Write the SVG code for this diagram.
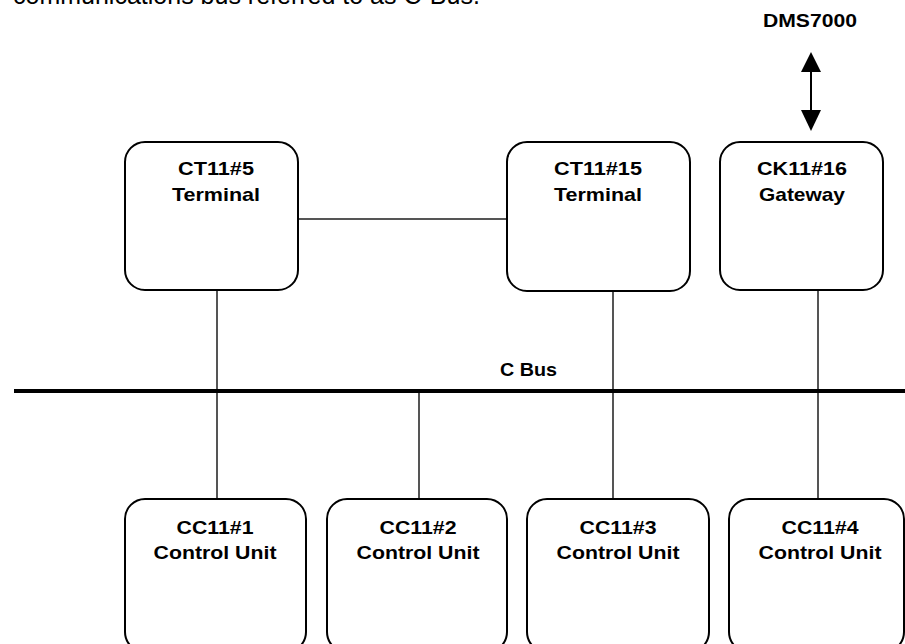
<svg xmlns="http://www.w3.org/2000/svg" width="905" height="644" viewBox="0 0 905 644">
<style>
.box{fill:#fff;stroke:#000;stroke-width:2}
.lbl{font-family:"Liberation Sans",Arial,sans-serif;font-weight:bold;font-size:19px;fill:#000;text-anchor:middle}
.conn{stroke:#555;stroke-width:2;fill:none}
</style>
<rect width="905" height="644" fill="#fff"/>
<text x="13" y="4" font-family="Liberation Sans, Arial, sans-serif" font-size="25" fill="#000">communications bus referred to as C-Bus.</text>
<text x="763" y="27" font-family="Liberation Sans, Arial, sans-serif" font-weight="bold" font-size="19" fill="#000" textLength="94" lengthAdjust="spacingAndGlyphs">DMS7000</text>
<g id="connectors">
<line class="conn" x1="298" y1="219" x2="507" y2="219"/>
<line class="conn" x1="217" y1="290" x2="217" y2="499"/>
<line class="conn" x1="419" y1="391" x2="419" y2="499"/>
<line class="conn" x1="613" y1="291" x2="613" y2="499"/>
<line class="conn" x1="818" y1="290" x2="818" y2="499"/>
<line x1="14" y1="391" x2="905" y2="391" stroke="#000" stroke-width="4"/>
<line x1="811" y1="72" x2="811" y2="110" stroke="#000" stroke-width="2"/>
<path d="M811,52 L821,72 L801,72 z" fill="#000"/>
<path d="M811,131 L821,110 L801,110 z" fill="#000"/>
</g>
<text x="500" y="376" font-family="Liberation Sans, Arial, sans-serif" font-weight="bold" font-size="19" fill="#000" textLength="57" lengthAdjust="spacingAndGlyphs">C Bus</text>
<g id="ct11-5">
<rect class="box" x="125" y="142" width="173" height="148" rx="20"/>
<text class="lbl" x="216" y="175" textLength="76" lengthAdjust="spacingAndGlyphs">CT11#5</text>
<text class="lbl" x="216" y="201" textLength="88" lengthAdjust="spacingAndGlyphs">Terminal</text>
</g>
<g id="ct11-15">
<rect class="box" x="507" y="142" width="183" height="149" rx="20"/>
<text class="lbl" x="598" y="175" textLength="88" lengthAdjust="spacingAndGlyphs">CT11#15</text>
<text class="lbl" x="598" y="201" textLength="88" lengthAdjust="spacingAndGlyphs">Terminal</text>
</g>
<g id="ck11-16">
<rect class="box" x="720" y="142" width="163" height="148" rx="20"/>
<text class="lbl" x="802" y="175" textLength="90" lengthAdjust="spacingAndGlyphs">CK11#16</text>
<text class="lbl" x="802" y="201" textLength="86" lengthAdjust="spacingAndGlyphs">Gateway</text>
</g>
<g id="cc11-1">
<rect class="box" x="125" y="499" width="181" height="153" rx="20"/>
<text class="lbl" x="215" y="534" textLength="77" lengthAdjust="spacingAndGlyphs">CC11#1</text>
<text class="lbl" x="215" y="559" textLength="123" lengthAdjust="spacingAndGlyphs">Control Unit</text>
</g>
<g id="cc11-2">
<rect class="box" x="327" y="499" width="180" height="153" rx="20"/>
<text class="lbl" x="418" y="534" textLength="77" lengthAdjust="spacingAndGlyphs">CC11#2</text>
<text class="lbl" x="418" y="559" textLength="123" lengthAdjust="spacingAndGlyphs">Control Unit</text>
</g>
<g id="cc11-3">
<rect class="box" x="527" y="499" width="182" height="153" rx="20"/>
<text class="lbl" x="618" y="534" textLength="77" lengthAdjust="spacingAndGlyphs">CC11#3</text>
<text class="lbl" x="618" y="559" textLength="123" lengthAdjust="spacingAndGlyphs">Control Unit</text>
</g>
<g id="cc11-4">
<rect class="box" x="729" y="499" width="175" height="153" rx="20"/>
<text class="lbl" x="820" y="534" textLength="77" lengthAdjust="spacingAndGlyphs">CC11#4</text>
<text class="lbl" x="820" y="559" textLength="123" lengthAdjust="spacingAndGlyphs">Control Unit</text>
</g>
</svg>
